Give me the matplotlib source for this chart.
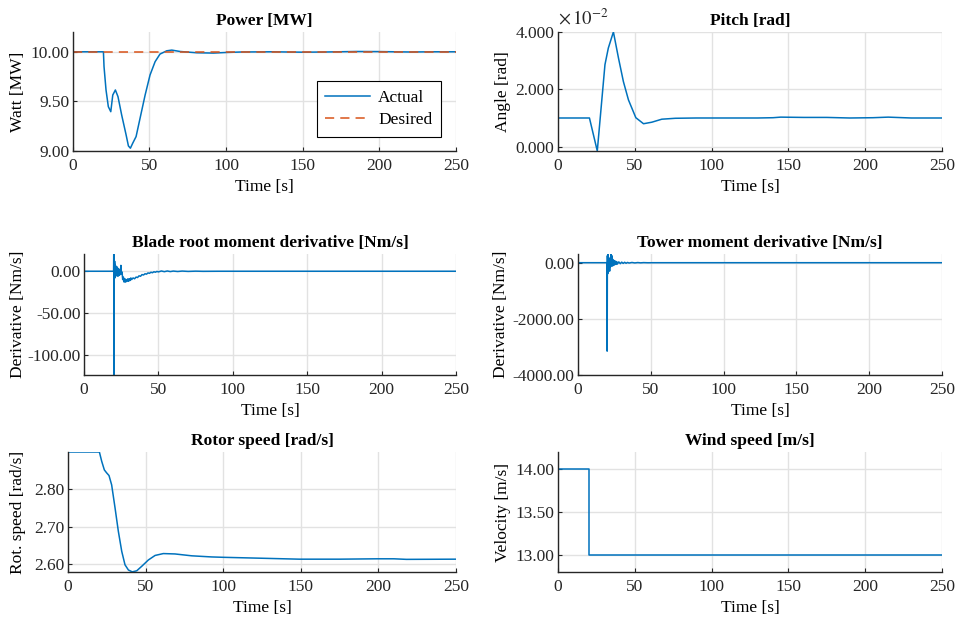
import numpy as np
import matplotlib
matplotlib.use("Agg")
import matplotlib.pyplot as plt
from matplotlib.ticker import FuncFormatter

plt.rcParams['font.family'] = ['Liberation Serif', 'DejaVu Serif']
plt.rcParams['mathtext.fontset'] = 'stix'
plt.rcParams['font.size'] = 12.5

BLUE = '#0072BD'
ORANGE = '#D95319'
AXC = '#262626'
FS = 12.5

# --- data ---
power_t = [0, 20, 20.4, 21.7, 23.2, 24.8, 26.1, 27.8, 29.5, 31.9, 34.8, 36.3, 37.6, 39.1,
           41.3, 43.9, 47.2, 50.4, 53.7, 56.9, 61.3, 64.6, 70, 80.9, 91.7, 100, 110, 130,
           150, 165, 185, 200, 220, 235, 250]
power_v = [10.0, 10.0, 9.85, 9.615, 9.447, 9.396, 9.564, 9.615, 9.548, 9.363, 9.162, 9.051,
           9.028, 9.078, 9.145, 9.33, 9.564, 9.766, 9.90, 9.977, 10.01, 10.017, 10.003, 9.99,
           9.987, 9.993, 9.998, 10.0, 9.996, 9.998, 10.003, 10.002, 9.998, 10.0, 10.0]
desired_t = [0, 250]
desired_v = [10.0, 10.0]

pitch_t = [0, 20.5, 25.6, 30.6, 32.8, 36.1, 39.4, 42.6, 45.9, 50.7, 55.7, 61.1, 67.6, 76.4,
           90, 110, 130, 140, 145, 160, 175, 190, 205, 215, 230, 250]
pitch_v = [0.0100, 0.0100, -0.0015, 0.0286, 0.0344, 0.0400, 0.0309, 0.0227, 0.0163, 0.0101,
           0.0080, 0.00853, 0.00958, 0.0099, 0.0100, 0.0100, 0.0100, 0.0101, 0.0103, 0.0102,
           0.0102, 0.0100, 0.0101, 0.0103, 0.0100, 0.0100]

blade_t = [0, 19.9, 20.0, 20.1, 20.2, 20.4, 20.6, 20.8, 21.0, 21.3, 21.6, 22.0, 22.4, 22.8,
           23.2, 23.6, 24.0, 24.4, 24.8, 25.2, 25.6, 26, 26.5, 27, 27.5, 28, 28.5, 29, 29.5,
           30, 30.5, 31, 31.5, 32, 33, 34, 35, 36, 37, 38, 39, 40, 41, 42, 43, 44, 45, 46,
           47, 48, 49, 50, 52, 54, 56, 58, 60, 63, 66, 70, 75, 80, 90, 250]
blade_v = [0, 0, 20.5, -124, 15, -5, 12, -8, 8, -6, 6, -4, 5, -6, 3, -5, 2, -4, 7, -3, -1,
           -10, -7, -13, -9, -13, -10, -12, -9, -12, -9, -11, -8, -10, -8, -9, -7, -7.5,
           -5.5, -6, -4, -4.5, -3, -3.5, -2, -2.5, -1.2, -1.8, -0.6, -1.2, -0.2, -0.8, 0.3,
           -0.5, 0.3, -0.4, 0.2, -0.3, 0.2, -0.2, 0.1, -0.1, 0, 0]

tower_t = [0, 19.9, 20.0, 20.15, 20.3, 20.5, 20.7, 20.9, 21.1, 21.4, 21.7, 22.0, 22.3, 22.6,
           22.9, 23.2, 23.5, 23.8, 24.2, 24.6, 25, 25.5, 26, 26.5, 27, 28, 29, 30, 31, 32,
           33, 34, 35, 37, 39, 41, 43, 45, 48, 52, 250]
tower_v = [0, 0, -3150, 250, -400, 300, -350, 200, -250, 150, -300, 100, -150, 310, -100,
           250, -120, 120, -100, 80, -80, 60, -60, 40, -50, 30, -35, 20, -25, 15, -20, 10,
           -12, 8, -8, 5, -5, 3, -2, 0, 0]

rotor_t = [0, 20.2, 21.7, 23.4, 24.9, 26.4, 28.1, 30.3, 32.4, 34.6, 36.7, 38.9, 41.4, 44.3,
           47.5, 51.8, 56.1, 61.4, 68.9, 79.7, 92.5, 100, 120, 149, 175, 199, 210, 218, 250]
rotor_v = [2.90, 2.90, 2.875, 2.852, 2.844, 2.837, 2.812, 2.75, 2.688, 2.634, 2.598, 2.584,
           2.579, 2.582, 2.594, 2.611, 2.623, 2.628, 2.627, 2.622, 2.619, 2.618, 2.616,
           2.613, 2.613, 2.614, 2.614, 2.6125, 2.613]

wind_t = [0, 20, 20, 250]
wind_v = [14.0, 14.0, 13.0, 13.0]

xticks = [0, 50, 100, 150, 200, 250]

fig = plt.figure(figsize=(9.61, 6.18), dpi=100)


def style(ax, title, ylabel, yticks, ylim, fmt, ypad=3):
    ax.set_xlim(0, 250)
    ax.set_ylim(*ylim)
    ax.set_xticks(xticks)
    ax.set_yticks(yticks)
    ax.yaxis.set_major_formatter(FuncFormatter(fmt))
    ax.set_title(title, fontweight='bold', fontsize=FS, pad=5)
    ax.set_xlabel('Time [s]', labelpad=3.5, fontsize=FS)
    ax.set_ylabel(ylabel, labelpad=ypad, fontsize=FS)
    ax.grid(True, color='#e2e2e2', linewidth=1.0)
    ax.set_axisbelow(True)
    for s in ['top', 'right']:
        ax.spines[s].set_visible(False)
    for s in ['left', 'bottom']:
        ax.spines[s].set_color(AXC)
        ax.spines[s].set_linewidth(1.0)
    ax.tick_params(direction='in', length=3, color=AXC, labelcolor=AXC, labelsize=FS)
    ax.tick_params(axis='x', pad=5)
    ax.tick_params(axis='y', pad=2.5)


f2 = lambda v, p: '%.2f' % v

ax1 = fig.add_axes([0.0757, 0.7557, 0.3989, 0.1926])
ax1.plot(power_t, power_v, color=BLUE, lw=1.1, label='Actual')
ax1.plot(desired_t, desired_v, color=ORANGE, lw=1.1, dashes=(6, 4), label='Desired')
style(ax1, 'Power [MW]', 'Watt [MW]', [9.0, 9.5, 10.0], (9.0, 10.2), f2)
leg = ax1.legend(loc='lower right', bbox_to_anchor=(0.961, 0.118), borderaxespad=0,
                 fancybox=False, edgecolor='black', framealpha=1, fontsize=FS,
                 handlelength=2.6, handletextpad=0.45, borderpad=0.5, labelspacing=0.35)
leg.get_frame().set_linewidth(0.8)

ax2 = fig.add_axes([0.5806, 0.7557, 0.3996, 0.1926])
ax2.plot(pitch_t, pitch_v, color=BLUE, lw=1.1)
style(ax2, 'Pitch [rad]', 'Angle [rad]', [0, 0.02, 0.04], (-0.0015, 0.04),
      lambda v, p: '%.3f' % (v * 100))
ax2.text(0.0, 1.03, r'$\times\,10^{-2}$', transform=ax2.transAxes, va='bottom',
         ha='left', fontsize=13.5, color=AXC)

ax3 = fig.add_axes([0.0874, 0.3932, 0.3871, 0.1958])
ax3.plot(blade_t, blade_v, color=BLUE, lw=1.1)
style(ax3, 'Blade root moment derivative [Nm/s]', 'Derivative [Nm/s]',
      [-100, -50, 0], (-124, 20.6), f2, ypad=1)

ax4 = fig.add_axes([0.6015, 0.3932, 0.3788, 0.1958])
ax4.plot(tower_t, tower_v, color=BLUE, lw=1.1)
style(ax4, 'Tower moment derivative [Nm/s]', 'Derivative [Nm/s]',
      [-4000, -2000, 0], (-4000, 310), f2)

ax5 = fig.add_axes([0.0708, 0.0744, 0.4037, 0.1942])
ax5.plot(rotor_t, rotor_v, color=BLUE, lw=1.1)
style(ax5, 'Rotor speed [rad/s]', 'Rot. speed [rad/s]', [2.6, 2.7, 2.8], (2.5786, 2.9), f2,
      ypad=6)

ax6 = fig.add_axes([0.5806, 0.0744, 0.3996, 0.1942])
ax6.plot(wind_t, wind_v, color=BLUE, lw=1.1)
style(ax6, 'Wind speed [m/s]', 'Velocity [m/s]', [13.0, 13.5, 14.0], (12.8, 14.2), f2)

fig.savefig('out.png', dpi=100)
